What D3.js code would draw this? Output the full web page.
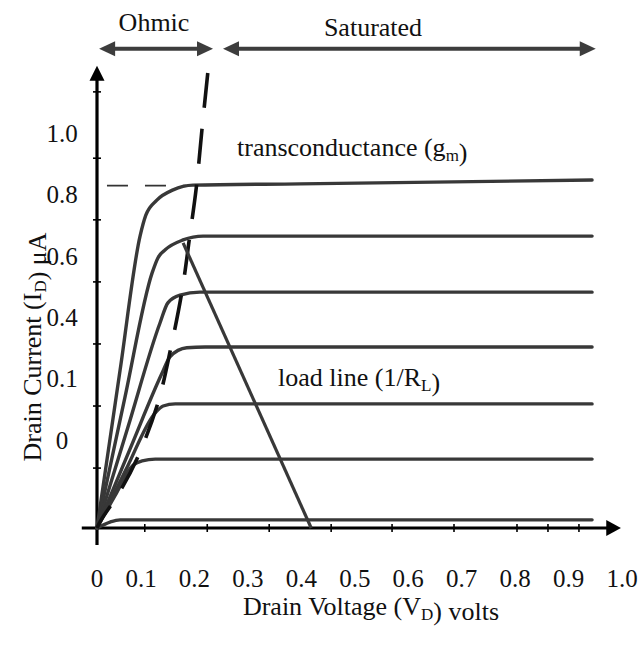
<!DOCTYPE html>
<html>
<head>
<meta charset="utf-8">
<script src="https://cdn.jsdelivr.net/npm/d3@7"></script>
<style>
  body { margin: 0; background: #fff; }
  svg { display: block; }
  text { font-family: "Liberation Serif", "Times New Roman", serif; fill: #111; }
</style>
</head>
<body>
<svg id="chart" width="639" height="647"></svg>
<script>
// Drain characteristic curves, [V_D, I_D] pairs (I_D in fraction of full scale)
const curveTop = [[0,0],[0.044,0.369],[0.082,0.682],[0.093,0.731],[0.114,0.766],[0.145,0.790],[0.183,0.801],[0.387,0.804],[0.943,0.813]];
const curve2 = [[0,0],[0.053,0.304],[0.105,0.596],[0.116,0.631],[0.130,0.650],[0.164,0.673],[0.202,0.682],[0.943,0.682]];
const curve3 = [[0,0],[0.059,0.236],[0.120,0.479],[0.135,0.526],[0.158,0.544],[0.196,0.551],[0.943,0.551]];
const curve4 = [[0,0],[0.063,0.185],[0.124,0.362],[0.139,0.400],[0.171,0.421],[0.206,0.423],[0.943,0.423]];
const curve5 = [[0,0],[0.055,0.136],[0.111,0.269],[0.126,0.285],[0.149,0.290],[0.943,0.290]];
const curve6 = [[0,0],[0.034,0.075],[0.069,0.147],[0.086,0.157],[0.111,0.161],[0.943,0.161]];
const curve7 = [[0,0],[0.025,0.014],[0.044,0.019],[0.943,0.019]];
const outputCurves = [curveTop, curve2, curve3, curve4, curve5, curve6, curve7];

// Boundary between the ohmic and saturated regions
const pinchOff = [[0.211,1.063],[0.200,0.932],[0.189,0.794],[0.177,0.685],[0.162,0.554],[0.141,0.423],[0.116,0.292],[0.076,0.161],[0.042,0.082],[0.008,0.019],[0,0]];

// Load line end points
const loadLine = [[0.164,0.666],[0.408,0]];

// Transconductance reference level
const gmLevel = 0.80;
const gmSpan = [0.019, 0.17];

// Axis tick marks and labels
const xTickMarks = [0.091, 0.210, 0.328, 0.446, 0.562, 0.680, 0.800, 0.859, 0.918];
const yTickMarks = [0.140, 0.285, 0.430, 0.575, 0.720, 0.864, 1.019];
const xTickLabels = ["0.1","0.2","0.3","0.4","0.5","0.6","0.7","0.8","0.9","1.0"];
const yTickLabels = ["0","0.1","0.4","0.6","0.8","1.0"];

// Region spans across the top
const ohmicSpan = [0.004, 0.221];
const saturatedSpan = [0.240, 0.950];

const svg = d3.select("#chart");
const x = d3.scaleLinear().domain([0, 1]).range([97, 622]);
const y = d3.scaleLinear().domain([0, 1]).range([528, 100]);
const xLab = d3.scaleLinear().domain([0.1, 1.0]).range([141, 622]);
const yLab = d3.scalePoint().domain(yTickLabels).range([440, 133]);

const curveColor = "#383838";
const line = d3.line().x(d => x(d[0])).y(d => y(d[1]));

// Axes
const axes = svg.append("g").attr("stroke", "#000");
axes.append("line").attr("x1", x(0)).attr("x2", x(0)).attr("y1", y(-0.04)).attr("y2", y(1.05)).attr("stroke-width", 3.2);
axes.append("line").attr("x1", x(-0.029)).attr("x2", x(0.975)).attr("y1", y(0)).attr("y2", y(0)).attr("stroke-width", 3.2);
svg.append("path")
  .attr("d", `M${x(0)},${y(1.08)} L${x(0)-7.5},${y(1.045)} L${x(0)+7.5},${y(1.045)} Z`)
  .attr("fill", "#000");
svg.append("path")
  .attr("d", `M${x(0.998)},${y(0)} L${x(0.970)},${y(0)-8} L${x(0.970)},${y(0)+8} Z`)
  .attr("fill", "#000");

axes.selectAll(".xt").data(xTickMarks).join("line")
  .attr("x1", d => x(d)).attr("x2", d => x(d))
  .attr("y1", y(0) - 4).attr("y2", y(0) + 4).attr("stroke-width", 1.6);
axes.selectAll(".yt").data(yTickMarks).join("line")
  .attr("y1", d => y(d)).attr("y2", d => y(d))
  .attr("x1", x(0) - 4).attr("x2", x(0) + 4).attr("stroke-width", 1.6);

// Tick labels
svg.append("g").selectAll("text").data(yTickLabels).join("text")
  .attr("x", 62).attr("y", d => yLab(d)).attr("dy", "0.35em")
  .attr("text-anchor", "middle").attr("font-size", 25).text(d => d);
const xl = svg.append("g");
xl.append("text").attr("x", x(0)).attr("y", 587).attr("text-anchor", "middle").attr("font-size", 25).text("0");
xl.selectAll(".xl").data(xTickLabels).join("text")
  .attr("x", d => xLab(+d)).attr("y", 587)
  .attr("text-anchor", "middle").attr("font-size", 25).text(d => d);

// Transconductance reference dash
svg.append("line")
  .attr("x1", x(gmSpan[0])).attr("x2", x(gmSpan[1]))
  .attr("y1", y(gmLevel)).attr("y2", y(gmLevel))
  .attr("stroke", "#333").attr("stroke-width", 1.8).attr("stroke-dasharray", "21,17");

// Characteristic curves
svg.append("g").selectAll("path").data(outputCurves).join("path")
  .attr("d", d3.line().x(d => x(d[0])).y(d => y(d[1])).curve(d3.curveMonotoneX))
  .attr("fill", "none").attr("stroke", curveColor).attr("stroke-width", 3.4)
  .attr("stroke-linejoin", "round").attr("stroke-linecap", "round");

// Ohmic / saturation boundary
svg.append("path")
  .attr("d", d3.line().x(d => x(d[0])).y(d => y(d[1])).curve(d3.curveCatmullRom)(pinchOff))
  .attr("fill", "none").attr("stroke", "#111").attr("stroke-width", 3.6)
  .attr("stroke-dasharray", "35,21");

// Load line
svg.append("path").attr("d", line(loadLine))
  .attr("fill", "none").attr("stroke", curveColor).attr("stroke-width", 3.2);

// Region arrows
function doubleArrow(span, level) {
  const x0 = x(span[0]), x1 = x(span[1]), yy = y(level);
  const g = svg.append("g").attr("fill", "#3d3d3d");
  g.append("line").attr("x1", x0 + 10).attr("x2", x1 - 10).attr("y1", yy).attr("y2", yy)
    .attr("stroke", "#3d3d3d").attr("stroke-width", 4);
  g.append("path").attr("d", `M${x0},${yy} L${x0+16},${yy-7.5} L${x0+16},${yy+7.5} Z`);
  g.append("path").attr("d", `M${x1},${yy} L${x1-16},${yy-7.5} L${x1-16},${yy+7.5} Z`);
}
doubleArrow(ohmicSpan, 1.12);
doubleArrow(saturatedSpan, 1.12);

svg.append("text").attr("x", 154).attr("y", 31).attr("text-anchor", "middle").attr("font-size", 26).text("Ohmic");
svg.append("text").attr("x", 373).attr("y", 36).attr("text-anchor", "middle").attr("font-size", 26).text("Saturated");

// Annotations with subscripts
function subText(xp, yp, parts, anchor, rotate) {
  const t = svg.append("text").attr("font-size", 26).attr("text-anchor", anchor || "start");
  if (rotate) t.attr("transform", `translate(${xp},${yp}) rotate(-90)`);
  else t.attr("x", xp).attr("y", yp);
  parts.forEach(p => {
    if (p.sub) {
      t.append("tspan").attr("font-size", 17).attr("dy", 5).text(p.sub);
      t.append("tspan").attr("dy", -5).text("");
    } else {
      t.append("tspan").text(p.t);
    }
  });
  return t;
}
subText(237, 156, [{t: "transconductance (g"}, {sub: "m"}, {t: ")"}]);
subText(278, 386, [{t: "load line (1/R"}, {sub: "L"}, {t: ")"}]);
subText(371, 615, [{t: "Drain Voltage (V"}, {sub: "D"}, {t: ") volts"}], "middle");
subText(41, 347, [{t: "Drain Current (I"}, {sub: "D"}, {t: ") μA"}], "middle", true);
</script>
</body>
</html>
